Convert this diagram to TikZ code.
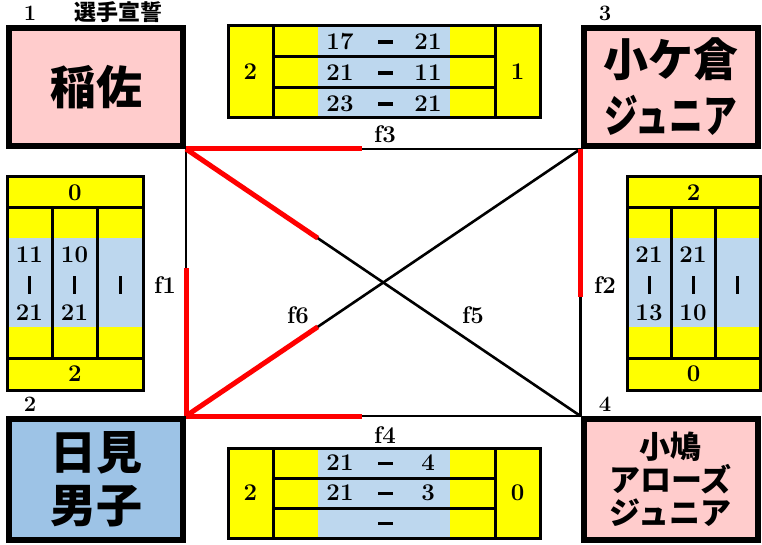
\documentclass[tikz,border=0pt]{standalone}
\usepackage{fontspec}
\usepackage{graphicx}
\usetikzlibrary{calc,backgrounds}
\newfontfamily\jpfont{Noto Sans CJK JP}
\definecolor{scoreyellow}{RGB}{255,255,0}
\definecolor{gameblue}{RGB}{189,215,238}
\definecolor{teampink}{RGB}{255,204,204}
\definecolor{teamblue}{RGB}{157,195,230}
\definecolor{winred}{RGB}{255,0,0}

\begin{document}
\begin{tikzpicture}[x=1pt,y=-1pt,
    team/.style={draw,line width=6pt,minimum width=174pt,inner sep=0pt,align=center},
    num/.style={font=\bfseries\fontsize{24}{24}\selectfont,inner sep=0pt},
    seed/.style={font=\bfseries\fontsize{22}{22}\selectfont,inner sep=0pt},
    gamedash/.style={fill,inner sep=0pt,minimum width=15pt,minimum height=3.5pt},
    vbar/.style={fill,inner sep=0pt,minimum width=3pt,minimum height=18pt},
    grid/.style={line width=3pt},
    match/.style={line width=2.6pt},
    won/.style={line width=5pt,winred}]
  \useasboundingbox (0,0) rectangle (762,545);

  % teams
  \node[team,fill=teampink,minimum height=118pt,font=\jpfont\bfseries\fontsize{46}{50}\selectfont] (t1) at (96,87) {稲佐};
  \node[team,fill=teampink,minimum height=118pt,font=\jpfont\bfseries\fontsize{45}{56}\selectfont] (t3) at (670.5,87) {小ケ倉\\\scalebox{0.75}[1]{ジュニア}};
  \node[team,fill=teamblue,minimum height=121pt,font=\jpfont\bfseries\fontsize{46}{53}\selectfont] (t2) at (96,479.5) {日見\\男子};
  \node[team,fill=teampink,minimum height=121pt,font=\jpfont\bfseries\fontsize{31}{33}\selectfont] (t4) at (670.5,479.5) {小鳩\\アローズ\\ジュニア};
  \node[seed] (s1) at (30,13) {1};
  \node[inner sep=0pt,font=\jpfont\bfseries\fontsize{22}{22}\selectfont] (oath) at (118,12) {選手宣誓};
  \node[seed] (s3) at (605,13) {3};
  \node[seed] (s2) at (30,404) {2};
  \node[seed] (s4) at (605,404) {4};

  % matches
  \begin{scope}[on background layer]
    \draw[match] (t1.south east) -- (t3.south west);
    \draw[match] (t2.north east) -- (t4.north west);
    \draw[match] (t1.south east) -- (t2.north east);
    \draw[match] (t3.south west) -- (t4.north west);
    \draw[match] (t1.south east) -- (t4.north west);
    \draw[match] (t2.north east) -- (t3.south west);
    \draw[won] (t1.south east) -- ($(t1.south east)!0.445!(t3.south west)$);
    \draw[won] (t2.north east) -- ($(t2.north east)!0.445!(t4.north west)$);
    \draw[won] (t2.north east) -- ($(t2.north east)!0.556!(t1.south east)$);
    \draw[won] (t3.south west) -- ($(t3.south west)!0.556!(t4.north west)$);
    \draw[won] (t1.south east) -- ($(t1.south east)!0.334!(t4.north west)$);
    \draw[won] (t2.north east) -- ($(t2.north east)!0.334!(t3.south west)$);
  \end{scope}
  \node[num] (f1) at (165,285) {f1};
  \node[num] (f2) at (605,285) {f2};
  \node[num] (f3) at (385,134) {f3};
  \node[num] (f4) at (385,435) {f4};
  \node[num] (f5) at (473,315) {f5};
  \node[num] (f6) at (298,315) {f6};

  % f3 score
  \begin{scope}[shift={(228,26)}]
    \fill[scoreyellow] (0,0) rectangle (312,92);
    \fill[gameblue] (90,0) rectangle (222,92);
    \draw[grid] (0,0) rectangle (312,92) (45,0) -- (45,92) (267,0) -- (267,92)
      (45,31) -- (267,31) (45,62) -- (267,62);
    \node[num] (f3l) at (22.5,46) {2};
    \node[num] (f3r) at (289.5,46) {1};
    \foreach \a/\b [count=\i] in {17/21,21/11,23/21} {
      \node[num] (f3a\i) at (112,{31*\i-15.5}) {\a};
      \node[gamedash] (f3d\i) at (157,{31*\i-15}) {};
      \node[num] (f3b\i) at (200,{31*\i-15.5}) {\b};
    }
  \end{scope}

  % f4 score
  \begin{scope}[shift={(228,448)}]
    \fill[scoreyellow] (0,0) rectangle (312,90);
    \fill[gameblue] (90,0) rectangle (222,90);
    \draw[grid] (0,0) rectangle (312,90) (45,0) -- (45,90) (267,0) -- (267,90)
      (45,30) -- (267,30) (45,60) -- (267,60);
    \node[num] (f4l) at (22.5,45) {2};
    \node[num] (f4r) at (289.5,45) {0};
    \foreach \a/\b [count=\i] in {21/4,21/3} {
      \node[num] (f4a\i) at (112,{30*\i-15}) {\a};
      \node[gamedash] (f4d\i) at (157,{30*\i-14.5}) {};
      \node[num] (f4b\i) at (200,{30*\i-15}) {\b};
    }
    \node[gamedash] (f4d3) at (157,75.5) {};
  \end{scope}

  % f1 score
  \begin{scope}[shift={(7,177)}]
    \fill[scoreyellow] (0,0) rectangle (136,213);
    \fill[gameblue] (0,61) rectangle (136,150);
    \draw[grid] (0,0) rectangle (136,213) (0,31) -- (136,31) (0,181) -- (136,181)
      (45,31) -- (45,181) (90,31) -- (90,181);
    \node[num] (f1t) at (68,15.5) {0};
    \node[num] (f1u) at (68,197) {2};
    \node[num] (f1a1) at (22.5,78) {11};
    \node[vbar] (f1d1) at (22.5,108) {};
    \node[num] (f1b1) at (22.5,136) {21};
    \node[num] (f1a2) at (67.5,78) {10};
    \node[vbar] (f1d2) at (67.5,108) {};
    \node[num] (f1b2) at (67.5,136) {21};
    \node[vbar] (f1d3) at (113,108) {};
  \end{scope}

  % f2 score
  \begin{scope}[shift={(627,177)}]
    \fill[scoreyellow] (0,0) rectangle (133,213);
    \fill[gameblue] (0,61) rectangle (133,150);
    \draw[grid] (0,0) rectangle (133,213) (0,31) -- (133,31) (0,181) -- (133,181)
      (44,31) -- (44,181) (88,31) -- (88,181);
    \node[num] (f2t) at (66.5,15.5) {2};
    \node[num] (f2u) at (66.5,197) {0};
    \node[num] (f2a1) at (22,78) {21};
    \node[vbar] (f2d1) at (22,108) {};
    \node[num] (f2b1) at (22,136) {13};
    \node[num] (f2a2) at (66,78) {21};
    \node[vbar] (f2d2) at (66,108) {};
    \node[num] (f2b2) at (66,136) {10};
    \node[vbar] (f2d3) at (110.5,108) {};
  \end{scope}
\end{tikzpicture}
\end{document}
